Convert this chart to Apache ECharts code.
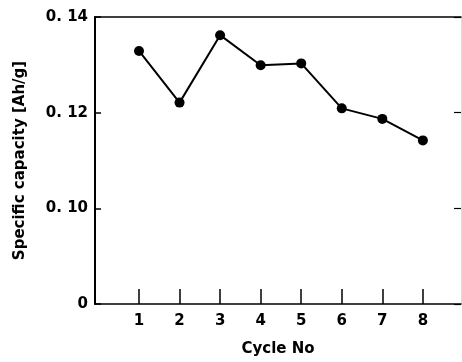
<!DOCTYPE html>
<html>
<head>
<meta charset="utf-8">
<script src="https://cdn.jsdelivr.net/npm/echarts@6/dist/echarts.min.js"></script>
<style>
  html, body { margin: 0; padding: 0; background: #fff; }
  #chart { width: 462px; height: 362px; }
</style>
</head>
<body>
<div id="chart"></div>
<script>
// cycle number and capacity
const cycles = [1, 2, 3, 4, 5, 6, 7, 8];
const capacity = [0.1329, 0.1221, 0.1362, 0.1299, 0.1303, 0.1209, 0.1187, 0.1142];
// the y axis is broken below 0.10: its bottom end (0.08 on the scale) is labelled 0
const yMin = 0.08;
const yMax = 0.14;
const yStep = 0.02;
const xTicks = [1, 2, 3, 4, 5, 6, 7, 8];

const font = 'DejaVu Sans, sans-serif';
const chart = echarts.init(document.getElementById('chart'));

chart.setOption({
    animation: false,
    grid: { left: 95, right: 1, top: 17, bottom: 54 },
    xAxis: [{
        type: 'value',
        min: -0.085,
        max: 8.94,
        name: 'Cycle No',
        nameLocation: 'middle',
        nameGap: 38,
        nameTextStyle: { color: '#000', fontFamily: font, fontWeight: 'bold', fontSize: 15 },
        axisLine: { onZero: false, lineStyle: { color: '#000', width: 1.5 } },
        axisTick: { inside: true, length: 15, customValues: xTicks, lineStyle: { color: '#000', width: 1.5 } },
        axisLabel: { customValues: xTicks, color: '#000', fontFamily: font, fontWeight: 'bold', fontSize: 15, margin: 10 },
        splitLine: { show: false }
    }, {
        type: 'value',
        position: 'top',
        min: -0.085,
        max: 8.94,
        axisLine: { show: true, onZero: false, lineStyle: { color: '#000', width: 1.5 } },
        axisTick: { show: false },
        axisLabel: { show: false },
        splitLine: { show: false }
    }],
    yAxis: [{
        type: 'value',
        min: yMin,
        max: yMax,
        interval: yStep,
        name: 'Specific capacity [Ah/g]',
        nameLocation: 'middle',
        nameGap: 67,
        nameTextStyle: { color: '#000', fontFamily: font, fontWeight: 'bold', fontSize: 15 },
        axisLine: { show: true, onZero: false, lineStyle: { color: '#000', width: 2 } },
        axisTick: { inside: true, length: 6, lineStyle: { color: '#000', width: 1.5 } },
        axisLabel: {
            color: '#000', fontFamily: font, fontWeight: 'bold', fontSize: 15, margin: 7,
            formatter: v => (Math.abs(v - yMin) < 1e-6 ? '0' : v.toFixed(2).replace('.', '. '))
        },
        splitLine: { show: false }
    }, {
        type: 'value',
        position: 'right',
        min: yMin,
        max: yMax,
        interval: yStep,
        axisLine: { show: true, onZero: false, lineStyle: { color: '#ddd', width: 1 } },
        axisTick: { inside: true, length: 7, lineStyle: { color: '#000', width: 1.2 } },
        axisLabel: { show: false },
        splitLine: { show: false }
    }],
    series: [{
        type: 'line',
        data: cycles.map((c, i) => [c, capacity[i]]),
        symbol: 'circle',
        symbolSize: 10,
        itemStyle: { color: '#000' },
        lineStyle: { color: '#000', width: 2 }
    }]
});
</script>
</body>
</html>
